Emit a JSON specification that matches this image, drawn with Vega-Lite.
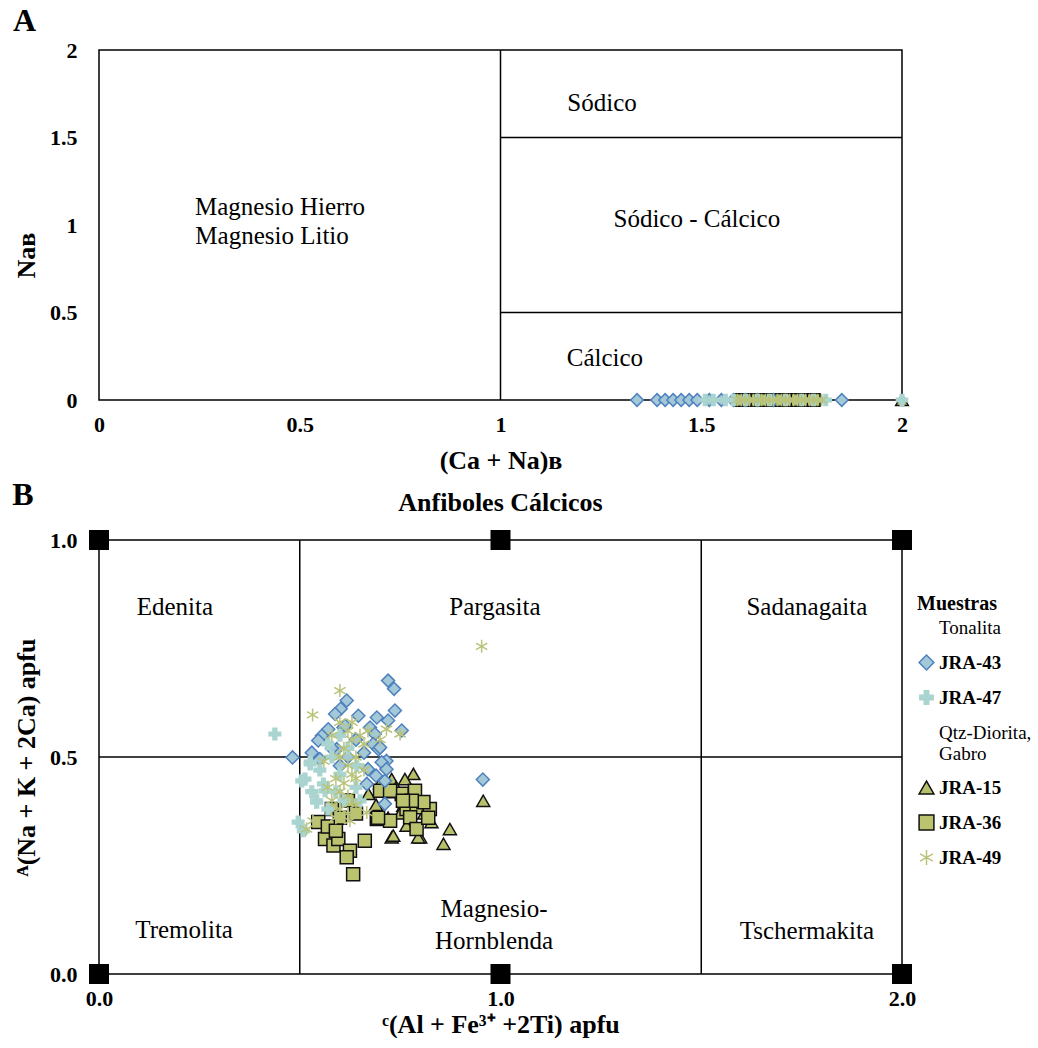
{
  "$schema": "https://vega.github.io/schema/vega-lite/v6.json",
  "padding": {"left": 12, "top": 4, "right": 0, "bottom": 0},
  "spacing": 5,
  "resolve": {"scale": {"fill": "independent", "stroke": "independent", "shape": "independent"}, "legend": {"fill": "independent", "stroke": "independent", "shape": "independent"}},
  "config": {
    "font": "Liberation Serif",
    "view": {"stroke": "black", "strokeWidth": 1.5},
    "axis": {"labelFont": "Liberation Serif", "titleFont": "Liberation Serif", "labelColor": "black", "titleColor": "black", "labelFontWeight": "bold", "titleFontWeight": "bold", "labelFontSize": 22, "titleFontSize": 26, "ticks": false, "domain": false, "grid": false, "labelFlush": false, "labelOverlap": false},
    "axisY": {"labelPadding": 22, "minExtent": 52, "maxExtent": 52, "titlePadding": 8},
    "title": {"font": "Liberation Serif", "color": "black", "fontWeight": "bold"}
  },
  "datasets": {
    "rulesA": [
      {"x": 1, "y": 0, "x2": 1, "y2": 2},
      {"x": 1, "y": 1.5, "x2": 2, "y2": 1.5},
      {"x": 1, "y": 0.5, "x2": 2, "y2": 0.5}
    ],
    "labelsA": [
      {"x": 0.451, "y": 1.103, "label": "Magnesio Hierro"},
      {"x": 0.431, "y": 0.937, "label": "Magnesio Litio"},
      {"x": 1.253, "y": 1.697, "label": "Sódico"},
      {"x": 1.489, "y": 1.034, "label": "Sódico - Cálcico"},
      {"x": 1.26, "y": 0.24, "label": "Cálcico"}
    ],
    "pointsA": [
      {"sample": "JRA-15", "x": 1.64, "y": 0}, {"sample": "JRA-15", "x": 1.68, "y": 0}, {"sample": "JRA-15", "x": 1.72, "y": 0}, {"sample": "JRA-15", "x": 1.76, "y": 0}, {"sample": "JRA-15", "x": 2.0, "y": 0},
      {"sample": "JRA-36", "x": 1.6, "y": 0}, {"sample": "JRA-36", "x": 1.62, "y": 0}, {"sample": "JRA-36", "x": 1.64, "y": 0}, {"sample": "JRA-36", "x": 1.66, "y": 0}, {"sample": "JRA-36", "x": 1.68, "y": 0}, {"sample": "JRA-36", "x": 1.7, "y": 0}, {"sample": "JRA-36", "x": 1.72, "y": 0}, {"sample": "JRA-36", "x": 1.74, "y": 0}, {"sample": "JRA-36", "x": 1.76, "y": 0}, {"sample": "JRA-36", "x": 1.78, "y": 0},
      {"sample": "JRA-43", "x": 1.34, "y": 0}, {"sample": "JRA-43", "x": 1.39, "y": 0}, {"sample": "JRA-43", "x": 1.41, "y": 0}, {"sample": "JRA-43", "x": 1.43, "y": 0}, {"sample": "JRA-43", "x": 1.45, "y": 0}, {"sample": "JRA-43", "x": 1.47, "y": 0}, {"sample": "JRA-43", "x": 1.49, "y": 0}, {"sample": "JRA-43", "x": 1.52, "y": 0}, {"sample": "JRA-43", "x": 1.55, "y": 0}, {"sample": "JRA-43", "x": 1.58, "y": 0}, {"sample": "JRA-43", "x": 1.61, "y": 0}, {"sample": "JRA-43", "x": 1.64, "y": 0}, {"sample": "JRA-43", "x": 1.68, "y": 0}, {"sample": "JRA-43", "x": 1.85, "y": 0},
      {"sample": "JRA-47", "x": 1.51, "y": 0}, {"sample": "JRA-47", "x": 1.53, "y": 0}, {"sample": "JRA-47", "x": 1.56, "y": 0}, {"sample": "JRA-47", "x": 1.58, "y": 0}, {"sample": "JRA-47", "x": 1.61, "y": 0}, {"sample": "JRA-47", "x": 1.64, "y": 0}, {"sample": "JRA-47", "x": 1.67, "y": 0}, {"sample": "JRA-47", "x": 1.71, "y": 0}, {"sample": "JRA-47", "x": 1.75, "y": 0}, {"sample": "JRA-47", "x": 1.78, "y": 0}, {"sample": "JRA-47", "x": 1.81, "y": 0}, {"sample": "JRA-47", "x": 2.0, "y": 0},
      {"sample": "JRA-49", "x": 1.59, "y": 0}, {"sample": "JRA-49", "x": 1.6, "y": 0}, {"sample": "JRA-49", "x": 1.61, "y": 0}, {"sample": "JRA-49", "x": 1.62, "y": 0}, {"sample": "JRA-49", "x": 1.63, "y": 0}, {"sample": "JRA-49", "x": 1.64, "y": 0}, {"sample": "JRA-49", "x": 1.65, "y": 0}, {"sample": "JRA-49", "x": 1.66, "y": 0}, {"sample": "JRA-49", "x": 1.67, "y": 0}, {"sample": "JRA-49", "x": 1.68, "y": 0}, {"sample": "JRA-49", "x": 1.69, "y": 0}, {"sample": "JRA-49", "x": 1.7, "y": 0}, {"sample": "JRA-49", "x": 1.71, "y": 0}, {"sample": "JRA-49", "x": 1.72, "y": 0}, {"sample": "JRA-49", "x": 1.73, "y": 0}, {"sample": "JRA-49", "x": 1.74, "y": 0}, {"sample": "JRA-49", "x": 1.75, "y": 0}, {"sample": "JRA-49", "x": 1.76, "y": 0}, {"sample": "JRA-49", "x": 1.77, "y": 0}, {"sample": "JRA-49", "x": 1.78, "y": 0}, {"sample": "JRA-49", "x": 1.79, "y": 0}, {"sample": "JRA-49", "x": 1.8, "y": 0}
    ],
    "rulesB": [
      {"x": 0.5, "y": 0, "x2": 0.5, "y2": 1},
      {"x": 1.5, "y": 0, "x2": 1.5, "y2": 1},
      {"x": 0, "y": 0.5, "x2": 2, "y2": 0.5}
    ],
    "labelsB": [
      {"x": 0.189, "y": 0.846, "label": "Edenita"},
      {"x": 0.986, "y": 0.846, "label": "Pargasita"},
      {"x": 1.763, "y": 0.846, "label": "Sadanagaita"},
      {"x": 0.212, "y": 0.101, "label": "Tremolita"},
      {"x": 0.984, "y": 0.15, "label": "Magnesio-"},
      {"x": 0.984, "y": 0.076, "label": "Hornblenda"},
      {"x": 1.763, "y": 0.099, "label": "Tschermakita"}
    ],
    "cornersB": [
      {"x": 0, "y": 0}, {"x": 1, "y": 0}, {"x": 2, "y": 0},
      {"x": 0, "y": 1}, {"x": 1, "y": 1}, {"x": 2, "y": 1}
    ],
    "pointsB": [
      {"sample": "JRA-15", "x": 0.783, "y": 0.461}, {"sample": "JRA-15", "x": 0.762, "y": 0.449}, {"sample": "JRA-15", "x": 0.729, "y": 0.449}, {"sample": "JRA-15", "x": 0.725, "y": 0.419}, {"sample": "JRA-15", "x": 0.671, "y": 0.415}, {"sample": "JRA-15", "x": 0.729, "y": 0.315}, {"sample": "JRA-15", "x": 0.766, "y": 0.342}, {"sample": "JRA-15", "x": 0.8, "y": 0.315}, {"sample": "JRA-15", "x": 0.828, "y": 0.35}, {"sample": "JRA-15", "x": 0.874, "y": 0.334}, {"sample": "JRA-15", "x": 0.858, "y": 0.3}, {"sample": "JRA-15", "x": 0.758, "y": 0.388}, {"sample": "JRA-15", "x": 0.957, "y": 0.399}, {"sample": "JRA-15", "x": 0.795, "y": 0.315}, {"sample": "JRA-15", "x": 0.733, "y": 0.319}, {"sample": "JRA-15", "x": 0.74, "y": 0.43}, {"sample": "JRA-15", "x": 0.7, "y": 0.44}, {"sample": "JRA-15", "x": 0.75, "y": 0.37}, {"sample": "JRA-15", "x": 0.79, "y": 0.4}, {"sample": "JRA-15", "x": 0.81, "y": 0.37}, {"sample": "JRA-15", "x": 0.69, "y": 0.39}, {"sample": "JRA-15", "x": 0.72, "y": 0.36},
      {"sample": "JRA-36", "x": 0.546, "y": 0.35}, {"sample": "JRA-36", "x": 0.563, "y": 0.311}, {"sample": "JRA-36", "x": 0.584, "y": 0.296}, {"sample": "JRA-36", "x": 0.596, "y": 0.311}, {"sample": "JRA-36", "x": 0.625, "y": 0.284}, {"sample": "JRA-36", "x": 0.617, "y": 0.269}, {"sample": "JRA-36", "x": 0.633, "y": 0.23}, {"sample": "JRA-36", "x": 0.662, "y": 0.307}, {"sample": "JRA-36", "x": 0.692, "y": 0.357}, {"sample": "JRA-36", "x": 0.7, "y": 0.422}, {"sample": "JRA-36", "x": 0.725, "y": 0.353}, {"sample": "JRA-36", "x": 0.754, "y": 0.415}, {"sample": "JRA-36", "x": 0.762, "y": 0.396}, {"sample": "JRA-36", "x": 0.787, "y": 0.422}, {"sample": "JRA-36", "x": 0.766, "y": 0.38}, {"sample": "JRA-36", "x": 0.791, "y": 0.384}, {"sample": "JRA-36", "x": 0.775, "y": 0.361}, {"sample": "JRA-36", "x": 0.824, "y": 0.38}, {"sample": "JRA-36", "x": 0.791, "y": 0.334}, {"sample": "JRA-36", "x": 0.808, "y": 0.396}, {"sample": "JRA-36", "x": 0.725, "y": 0.422}, {"sample": "JRA-36", "x": 0.779, "y": 0.399}, {"sample": "JRA-36", "x": 0.82, "y": 0.36}, {"sample": "JRA-36", "x": 0.757, "y": 0.399}, {"sample": "JRA-36", "x": 0.695, "y": 0.36}, {"sample": "JRA-36", "x": 0.58, "y": 0.38}, {"sample": "JRA-36", "x": 0.6, "y": 0.36}, {"sample": "JRA-36", "x": 0.62, "y": 0.4}, {"sample": "JRA-36", "x": 0.57, "y": 0.34}, {"sample": "JRA-36", "x": 0.64, "y": 0.37}, {"sample": "JRA-36", "x": 0.59, "y": 0.33},
      {"sample": "JRA-43", "x": 0.72, "y": 0.676}, {"sample": "JRA-43", "x": 0.735, "y": 0.657}, {"sample": "JRA-43", "x": 0.617, "y": 0.63}, {"sample": "JRA-43", "x": 0.602, "y": 0.611}, {"sample": "JRA-43", "x": 0.588, "y": 0.599}, {"sample": "JRA-43", "x": 0.646, "y": 0.595}, {"sample": "JRA-43", "x": 0.692, "y": 0.591}, {"sample": "JRA-43", "x": 0.737, "y": 0.607}, {"sample": "JRA-43", "x": 0.72, "y": 0.584}, {"sample": "JRA-43", "x": 0.609, "y": 0.568}, {"sample": "JRA-43", "x": 0.571, "y": 0.564}, {"sample": "JRA-43", "x": 0.555, "y": 0.549}, {"sample": "JRA-43", "x": 0.675, "y": 0.568}, {"sample": "JRA-43", "x": 0.687, "y": 0.553}, {"sample": "JRA-43", "x": 0.754, "y": 0.561}, {"sample": "JRA-43", "x": 0.546, "y": 0.538}, {"sample": "JRA-43", "x": 0.683, "y": 0.53}, {"sample": "JRA-43", "x": 0.696, "y": 0.518}, {"sample": "JRA-43", "x": 0.482, "y": 0.499}, {"sample": "JRA-43", "x": 0.55, "y": 0.495}, {"sample": "JRA-43", "x": 0.716, "y": 0.491}, {"sample": "JRA-43", "x": 0.592, "y": 0.518}, {"sample": "JRA-43", "x": 0.613, "y": 0.572}, {"sample": "JRA-43", "x": 0.7, "y": 0.522}, {"sample": "JRA-43", "x": 0.704, "y": 0.488}, {"sample": "JRA-43", "x": 0.716, "y": 0.472}, {"sample": "JRA-43", "x": 0.67, "y": 0.472}, {"sample": "JRA-43", "x": 0.69, "y": 0.457}, {"sample": "JRA-43", "x": 0.712, "y": 0.445}, {"sample": "JRA-43", "x": 0.667, "y": 0.438}, {"sample": "JRA-43", "x": 0.712, "y": 0.392}, {"sample": "JRA-43", "x": 0.956, "y": 0.448}, {"sample": "JRA-43", "x": 0.58, "y": 0.52}, {"sample": "JRA-43", "x": 0.62, "y": 0.5}, {"sample": "JRA-43", "x": 0.64, "y": 0.54}, {"sample": "JRA-43", "x": 0.66, "y": 0.51}, {"sample": "JRA-43", "x": 0.53, "y": 0.51}, {"sample": "JRA-43", "x": 0.6, "y": 0.48},
      {"sample": "JRA-47", "x": 0.438, "y": 0.553}, {"sample": "JRA-47", "x": 0.513, "y": 0.449}, {"sample": "JRA-47", "x": 0.526, "y": 0.488}, {"sample": "JRA-47", "x": 0.542, "y": 0.399}, {"sample": "JRA-47", "x": 0.505, "y": 0.445}, {"sample": "JRA-47", "x": 0.542, "y": 0.396}, {"sample": "JRA-47", "x": 0.496, "y": 0.35}, {"sample": "JRA-47", "x": 0.509, "y": 0.33}, {"sample": "JRA-47", "x": 0.559, "y": 0.438}, {"sample": "JRA-47", "x": 0.563, "y": 0.422}, {"sample": "JRA-47", "x": 0.526, "y": 0.484}, {"sample": "JRA-47", "x": 0.65, "y": 0.399}, {"sample": "JRA-47", "x": 0.642, "y": 0.48}, {"sample": "JRA-47", "x": 0.58, "y": 0.5}, {"sample": "JRA-47", "x": 0.6, "y": 0.46}, {"sample": "JRA-47", "x": 0.57, "y": 0.53}, {"sample": "JRA-47", "x": 0.62, "y": 0.52}, {"sample": "JRA-47", "x": 0.59, "y": 0.42}, {"sample": "JRA-47", "x": 0.61, "y": 0.4}, {"sample": "JRA-47", "x": 0.55, "y": 0.47}, {"sample": "JRA-47", "x": 0.64, "y": 0.43}, {"sample": "JRA-47", "x": 0.6, "y": 0.55}, {"sample": "JRA-47", "x": 0.57, "y": 0.38}, {"sample": "JRA-47", "x": 0.53, "y": 0.42},
      {"sample": "JRA-49", "x": 0.953, "y": 0.755}, {"sample": "JRA-49", "x": 0.6, "y": 0.653}, {"sample": "JRA-49", "x": 0.532, "y": 0.597}, {"sample": "JRA-49", "x": 0.716, "y": 0.564}, {"sample": "JRA-49", "x": 0.75, "y": 0.553}, {"sample": "JRA-49", "x": 0.517, "y": 0.334}, {"sample": "JRA-49", "x": 0.533, "y": 0.353}, {"sample": "JRA-49", "x": 0.625, "y": 0.353}, {"sample": "JRA-49", "x": 0.667, "y": 0.372}, {"sample": "JRA-49", "x": 0.6, "y": 0.58}, {"sample": "JRA-49", "x": 0.62, "y": 0.56}, {"sample": "JRA-49", "x": 0.63, "y": 0.54}, {"sample": "JRA-49", "x": 0.65, "y": 0.55}, {"sample": "JRA-49", "x": 0.61, "y": 0.52}, {"sample": "JRA-49", "x": 0.64, "y": 0.5}, {"sample": "JRA-49", "x": 0.66, "y": 0.53}, {"sample": "JRA-49", "x": 0.6, "y": 0.5}, {"sample": "JRA-49", "x": 0.62, "y": 0.48}, {"sample": "JRA-49", "x": 0.63, "y": 0.46}, {"sample": "JRA-49", "x": 0.59, "y": 0.45}, {"sample": "JRA-49", "x": 0.61, "y": 0.44}, {"sample": "JRA-49", "x": 0.6, "y": 0.42}, {"sample": "JRA-49", "x": 0.62, "y": 0.41}, {"sample": "JRA-49", "x": 0.58, "y": 0.4}, {"sample": "JRA-49", "x": 0.6, "y": 0.38}, {"sample": "JRA-49", "x": 0.62, "y": 0.37}, {"sample": "JRA-49", "x": 0.59, "y": 0.36}, {"sample": "JRA-49", "x": 0.64, "y": 0.39}, {"sample": "JRA-49", "x": 0.57, "y": 0.43}, {"sample": "JRA-49", "x": 0.67, "y": 0.56}, {"sample": "JRA-49", "x": 0.7, "y": 0.54}, {"sample": "JRA-49", "x": 0.58, "y": 0.55}, {"sample": "JRA-49", "x": 0.64, "y": 0.45}, {"sample": "JRA-49", "x": 0.66, "y": 0.47}, {"sample": "JRA-49", "x": 0.56, "y": 0.49}, {"sample": "JRA-49", "x": 0.63, "y": 0.58}
    ]
  },
  "vconcat": [
    {
      "width": 803,
      "height": 350,
      "title": {"text": "A", "anchor": "start", "frame": "bounds", "fontSize": 32, "offset": 1},
      "encoding": {
        "x": {"field": "x", "type": "quantitative", "scale": {"domain": [0, 2], "nice": false},
              "axis": {"values": [0, 0.5, 1, 1.5, 2], "format": "~g", "title": "(Ca + Na)ʙ", "labelPadding": 14, "titlePadding": 12}},
        "y": {"field": "y", "type": "quantitative", "scale": {"domain": [0, 2], "nice": false},
              "axis": {"values": [0, 0.5, 1, 1.5, 2], "format": "~g", "title": "Naʙ", "titleY": 205}}
      },
      "layer": [
        {"data": {"name": "rulesA"}, "mark": {"type": "rule", "stroke": "black", "strokeWidth": 1.5},
         "encoding": {"x2": {"field": "x2"}, "y2": {"field": "y2"}}},
        {"data": {"name": "labelsA"}, "mark": {"type": "text", "font": "Liberation Serif", "fontSize": 25, "color": "black"},
         "encoding": {"text": {"field": "label"}}},
        {"data": {"name": "pointsA"}, "mark": {"type": "point", "opacity": 1, "size": 160, "strokeWidth": 1.5},
         "encoding": {
           "shape": {"field": "sample", "type": "nominal", "legend": null, "scale": {"domain": ["Tonalita", "JRA-43", "JRA-47", "Qtz-Diorita, Gabro", "JRA-15", "JRA-36", "JRA-49"], "range": ["circle", "diamond", "cross", "circle", "triangle-up", "square", "M0,-1L0,1M-0.87,-0.5L0.87,0.5M-0.87,0.5L0.87,-0.5"]}},
           "fill": {"field": "sample", "type": "nominal", "legend": null, "scale": {"domain": ["Tonalita", "JRA-43", "JRA-47", "Qtz-Diorita, Gabro", "JRA-15", "JRA-36", "JRA-49"], "range": ["transparent", "#a3c9d9", "#a9d4cf", "transparent", "#b8bf6a", "#bcc36f", "transparent"]}},
           "stroke": {"field": "sample", "type": "nominal", "legend": null, "scale": {"domain": ["Tonalita", "JRA-43", "JRA-47", "Qtz-Diorita, Gabro", "JRA-15", "JRA-36", "JRA-49"], "range": ["transparent", "#4f81bd", "transparent", "transparent", "#111111", "#111111", "#b9c37a"]}}
         }}
      ]
    },
    {
      "title": {"text": "B", "anchor": "start", "frame": "bounds", "fontSize": 32, "offset": -23},
      "resolve": {"scale": {"fill": "independent", "stroke": "independent", "shape": "independent"}, "legend": {"fill": "independent", "stroke": "independent", "shape": "independent"}},
      "vconcat": [
        {
          "width": 803,
          "height": 434,
          "title": {"text": "Anfiboles Cálcicos", "anchor": "middle", "frame": "group", "fontSize": 26, "offset": 13},
          "encoding": {
            "x": {"field": "x", "type": "quantitative", "scale": {"domain": [0, 2], "nice": false},
                  "axis": {"values": [0, 1, 2], "format": ".1f", "title": "ᶜ(Al + Fe³⁺ +2Ti) apfu", "labelPadding": 14, "titlePadding": 2}},
            "y": {"field": "y", "type": "quantitative", "scale": {"domain": [0, 1], "nice": false},
                  "axis": {"values": [0, 0.5, 1], "format": ".1f", "title": "ᴬ(Na + K + 2Ca) apfu"}}
          },
          "layer": [
            {"data": {"name": "rulesB"}, "mark": {"type": "rule", "stroke": "black", "strokeWidth": 1.5},
             "encoding": {"x2": {"field": "x2"}, "y2": {"field": "y2"}}},
            {"data": {"name": "labelsB"}, "mark": {"type": "text", "font": "Liberation Serif", "fontSize": 25, "color": "black"},
             "encoding": {"text": {"field": "label"}}},
            {"data": {"name": "pointsB"}, "mark": {"type": "point", "opacity": 1, "size": 170, "strokeWidth": 1.5},
             "encoding": {
               "shape": {"field": "sample", "type": "nominal",
                 "scale": {"domain": ["Tonalita", "JRA-43", "JRA-47", "Qtz-Diorita, Gabro", "JRA-15", "JRA-36", "JRA-49"], "range": ["circle", "diamond", "cross", "circle", "triangle-up", "square", "M0,-1L0,1M-0.87,-0.5L0.87,0.5M-0.87,0.5L0.87,-0.5"]},
                 "legend": {"title": "Muestras", "orient": "none", "legendX": 818, "legendY": 54, "padding": 0, "titleFont": "Liberation Serif", "titleFontSize": 20, "titleFontWeight": "bold", "titleColor": "black", "titlePadding": 4, "labelFont": "Liberation Serif", "labelFontSize": 19, "labelColor": "black", "labelFontWeight": {"expr": "datum.value == 'Tonalita' || datum.value == 'Qtz-Diorita, Gabro' ? 'normal' : 'bold'"}, "labelExpr": "datum.value == 'Qtz-Diorita, Gabro' ? ['Qtz-Diorita,', 'Gabro'] : datum.label", "symbolSize": 220, "symbolStrokeWidth": 1.5, "symbolOpacity": 1, "rowPadding": 14, "labelOffset": 3}},
               "fill": {"field": "sample", "type": "nominal",
                 "scale": {"domain": ["Tonalita", "JRA-43", "JRA-47", "Qtz-Diorita, Gabro", "JRA-15", "JRA-36", "JRA-49"], "range": ["transparent", "#a3c9d9", "#a9d4cf", "transparent", "#b8bf6a", "#bcc36f", "transparent"]},
                 "legend": {"title": "Muestras", "orient": "none", "legendX": 818, "legendY": 54, "padding": 0, "titleFont": "Liberation Serif", "titleFontSize": 20, "titleFontWeight": "bold", "titleColor": "black", "titlePadding": 4, "labelFont": "Liberation Serif", "labelFontSize": 19, "labelColor": "black", "labelFontWeight": {"expr": "datum.value == 'Tonalita' || datum.value == 'Qtz-Diorita, Gabro' ? 'normal' : 'bold'"}, "labelExpr": "datum.value == 'Qtz-Diorita, Gabro' ? ['Qtz-Diorita,', 'Gabro'] : datum.label", "symbolSize": 220, "symbolStrokeWidth": 1.5, "symbolOpacity": 1, "rowPadding": 14, "labelOffset": 3}},
               "stroke": {"field": "sample", "type": "nominal",
                 "scale": {"domain": ["Tonalita", "JRA-43", "JRA-47", "Qtz-Diorita, Gabro", "JRA-15", "JRA-36", "JRA-49"], "range": ["transparent", "#4f81bd", "transparent", "transparent", "#111111", "#111111", "#b9c37a"]},
                 "legend": {"title": "Muestras", "orient": "none", "legendX": 818, "legendY": 54, "padding": 0, "titleFont": "Liberation Serif", "titleFontSize": 20, "titleFontWeight": "bold", "titleColor": "black", "titlePadding": 4, "labelFont": "Liberation Serif", "labelFontSize": 19, "labelColor": "black", "labelFontWeight": {"expr": "datum.value == 'Tonalita' || datum.value == 'Qtz-Diorita, Gabro' ? 'normal' : 'bold'"}, "labelExpr": "datum.value == 'Qtz-Diorita, Gabro' ? ['Qtz-Diorita,', 'Gabro'] : datum.label", "symbolSize": 220, "symbolStrokeWidth": 1.5, "symbolOpacity": 1, "rowPadding": 14, "labelOffset": 3}}
             }},
            {"data": {"name": "cornersB"}, "mark": {"type": "square", "color": "black", "opacity": 1, "size": 400}}
          ]
        }
      ]
    }
  ]
}
